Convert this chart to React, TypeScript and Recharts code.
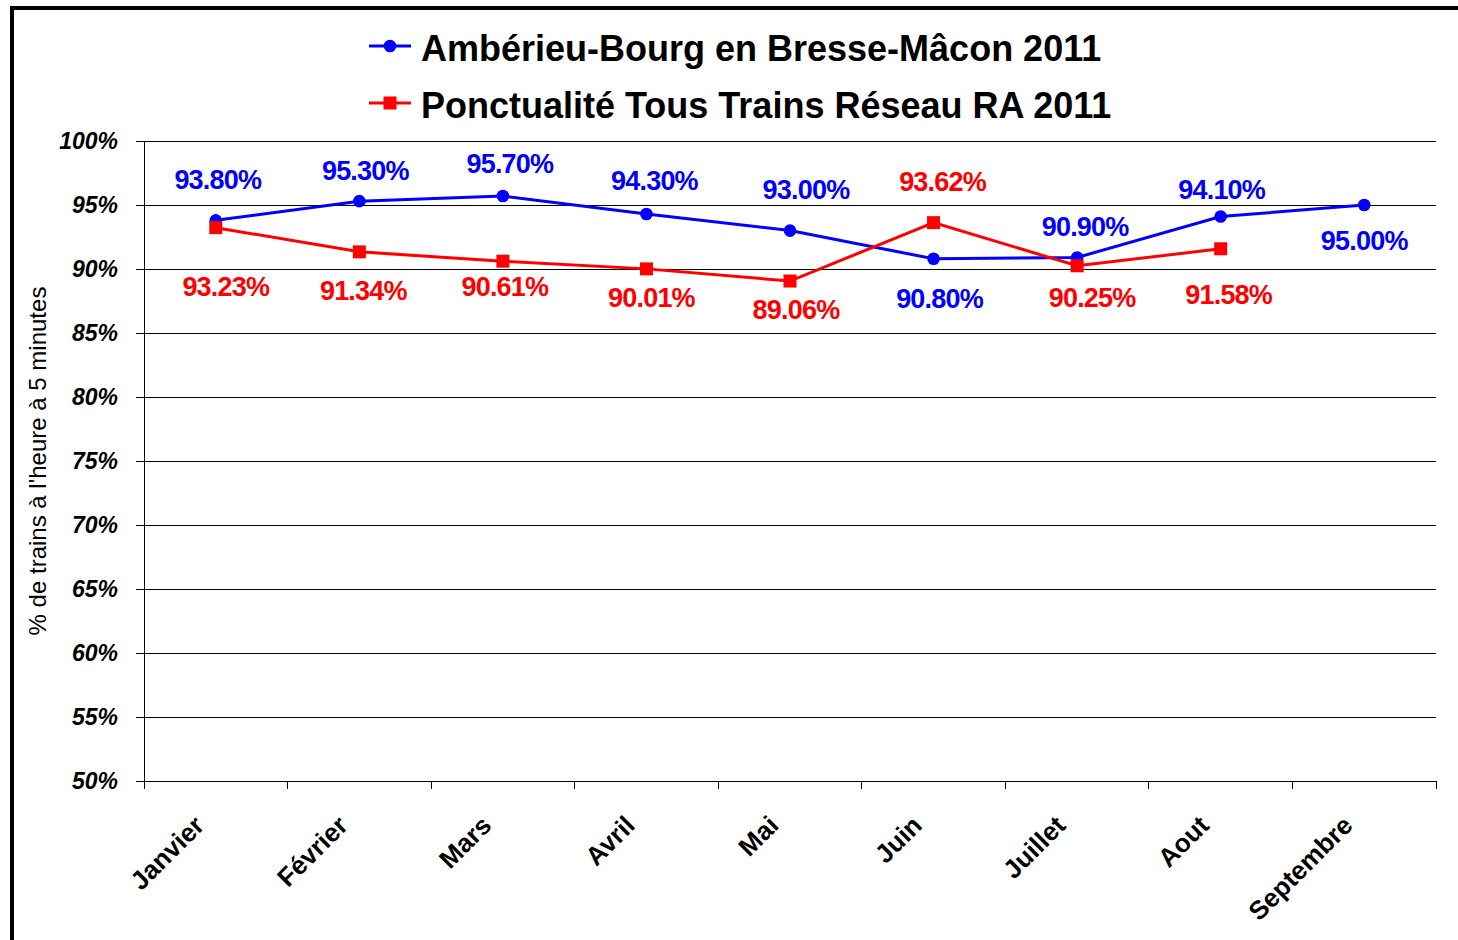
import React from "react";
import {
  LineChart,
  Line,
  XAxis,
  YAxis,
  CartesianGrid,
  LabelList,
} from "recharts";

// Mois (catégories)
const months = [
  "Janvier",
  "Février",
  "Mars",
  "Avril",
  "Mai",
  "Juin",
  "Juillet",
  "Aout",
  "Septembre",
];

// Séries
const amberieu = [93.8, 95.3, 95.7, 94.3, 93.0, 90.8, 90.9, 94.1, 95.0];
const reseauRA = [93.23, 91.34, 90.61, 90.01, 89.06, 93.62, 90.25, 91.58, null];

const seriesNames = [
  "Ambérieu-Bourg en Bresse-Mâcon 2011",
  "Ponctualité Tous Trains Réseau RA 2011",
];

const yTicks = [50, 55, 60, 65, 70, 75, 80, 85, 90, 95, 100];
const yTitle = "% de trains à l'heure à 5 minutes";

// décalage des étiquettes (placées à la main dans l'original)
const blueLabelShift = [
  [2, -40], [6, -30], [7, -32], [8, -33], [16, -41], [6, 40], [8, -30], [1, -27], [0, 36],
];
const redLabelShift = [
  [10, 59], [4, 39], [2, 26], [5, 29], [6, 29], [9, -41], [15, 32], [8, 46], [0, 0],
];

const BLUE = "#0000FF";
const RED = "#FF0000";
const FONT = "'Liberation Sans', Arial, sans-serif";

const W = 1458;
const H = 940;
const PLOT_LEFT = 144;
const PLOT_RIGHT = 1436;
const PLOT_TOP = 141;
const PLOT_BOTTOM = 781;
const X_AXIS_H = 120;
const BAND = (PLOT_RIGHT - PLOT_LEFT) / months.length;

const data = months.map((m, i) => ({
  idx: i,
  month: m,
  amberieu: amberieu[i],
  reseau: reseauRA[i],
}));

const boundaries = months.map((_, i) => i - 0.5).concat(months.length - 0.5);

function MonthTick(props: any) {
  const { x, y, payload } = props;
  const i = Math.round(payload.value + 0.5);
  if (i < 0 || i >= months.length) return <g />;
  const tx = x + BAND / 2 - 10;
  const ty = y + 36;
  return (
    <text
      x={tx}
      y={ty}
      transform={`rotate(-45 ${tx} ${ty})`}
      textAnchor="end"
      fontFamily={FONT}
      fontWeight="bold"
      fontSize={26}
      fill="#000"
    >
      {months[i]}
    </text>
  );
}

function makeLabel(color: string, shifts: number[][]) {
  return (props: any) => {
    const { x, y, value, index } = props;
    if (value == null || x == null || y == null) return <g />;
    const [dx, dy] = shifts[index] || [0, -35];
    return (
      <text
        x={x + dx}
        y={y + dy}
        textAnchor="middle"
        dominantBaseline="central"
        fontFamily={FONT}
        fontWeight="bold"
        fontSize={27}
        letterSpacing={-0.8}
        fill={color}
      >
        {Number(value).toFixed(2)}%
      </text>
    );
  };
}

function SquareDot(props: any) {
  const { cx, cy, index } = props;
  if (cx == null || cy == null || props.value == null) return <g key={`sq-${index}`} />;
  return (
    <rect key={`sq-${index}`} x={cx - 6.5} y={cy - 6.5} width={13} height={13} fill={RED} />
  );
}

function YTitle(props: any) {
  const cx = 37;
  const cy = (PLOT_TOP + PLOT_BOTTOM) / 2;
  return (
    <text
      x={cx}
      y={cy}
      transform={`rotate(-90 ${cx} ${cy})`}
      textAnchor="middle"
      dominantBaseline="central"
      fontFamily={FONT}
      fontSize={24}
      fill="#000"
    >
      {props.value}
    </text>
  );
}

export default function App() {
  const legend = [
    { name: seriesNames[0], color: BLUE, shape: "circle", y: 46 },
    { name: seriesNames[1], color: RED, shape: "square", y: 103 },
  ];

  return (
    <div
      style={{
        position: "absolute",
        left: 0,
        top: 0,
        width: W,
        height: H,
        overflow: "hidden",
        background: "#fff",
      }}
    >
      <div
        style={{
          position: "absolute",
          left: 10,
          top: 6,
          width: W + 40,
          height: H + 40,
          borderLeft: "4px solid #000",
          borderTop: "4px solid #000",
        }}
      />
      <LineChart
        width={W}
        height={H}
        data={data}
        margin={{
          top: PLOT_TOP,
          right: W - PLOT_RIGHT,
          left: 0,
          bottom: H - PLOT_BOTTOM - X_AXIS_H,
        }}
      >
        <CartesianGrid
          vertical={false}
          stroke="#000"
          strokeWidth={1}
          shapeRendering="crispEdges"
        />
        <XAxis
          type="number"
          dataKey="idx"
          domain={[-0.5, months.length - 0.5]}
          ticks={boundaries}
          interval={0}
          height={X_AXIS_H}
          tickSize={8}
          axisLine={{ stroke: "#000", shapeRendering: "crispEdges" }}
          tickLine={{ stroke: "#000", shapeRendering: "crispEdges" }}
          tick={<MonthTick />}
        />
        <YAxis
          width={PLOT_LEFT}
          domain={[50, 100]}
          ticks={yTicks}
          interval={0}
          tickSize={8}
          tickMargin={18}
          axisLine={{ stroke: "#000", shapeRendering: "crispEdges" }}
          tickLine={{ stroke: "#000", shapeRendering: "crispEdges" }}
          tickFormatter={(v: number) => `${v}%`}
          tick={{
            fill: "#000",
            fontFamily: FONT,
            fontWeight: "bold",
            fontStyle: "italic",
            fontSize: 23,
          }}
          label={{ value: yTitle, content: <YTitle value={yTitle} /> }}
        />
        <Line
          type="linear"
          dataKey="amberieu"
          name={seriesNames[0]}
          stroke={BLUE}
          strokeWidth={3}
          dot={{ r: 6.3, fill: BLUE, stroke: BLUE, strokeWidth: 0 }}
          isAnimationActive={false}
        >
          <LabelList dataKey="amberieu" content={makeLabel(BLUE, blueLabelShift)} />
        </Line>
        <Line
          type="linear"
          dataKey="reseau"
          name={seriesNames[1]}
          stroke={RED}
          strokeWidth={3}
          dot={<SquareDot />}
          isAnimationActive={false}
        >
          <LabelList dataKey="reseau" content={makeLabel(RED, redLabelShift)} />
        </Line>
      </LineChart>
      <svg
        width={W}
        height={135}
        style={{ position: "absolute", left: 0, top: 0, pointerEvents: "none" }}
      >
        {legend.map((item) => (
          <g key={item.name}>
            <line x1={369} x2={411} y1={item.y} y2={item.y} stroke={item.color} strokeWidth={3} />
            {item.shape === "circle" ? (
              <circle cx={390} cy={item.y} r={6.3} fill={item.color} />
            ) : (
              <rect x={383.5} y={item.y - 6.5} width={13} height={13} fill={item.color} />
            )}
            <text
              x={421}
              y={item.y + 15}
              fontFamily={FONT}
              fontWeight="bold"
              fontSize={36}
              fill="#000"
            >
              {item.name}
            </text>
          </g>
        ))}
      </svg>
    </div>
  );
}
